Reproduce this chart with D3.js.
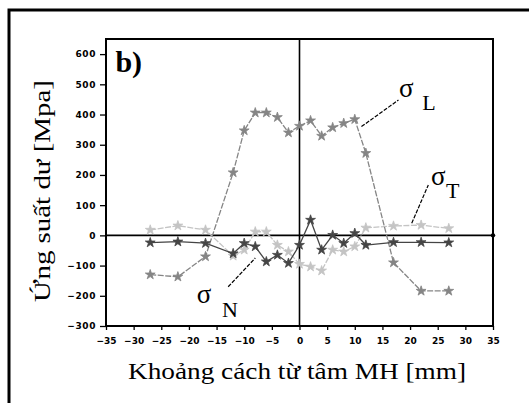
<!DOCTYPE html>
<html>
<head>
<meta charset="utf-8">
<script src="https://cdn.jsdelivr.net/npm/d3@7"></script>
<style>
  body { margin: 0; background: #fff; }
  #grafico svg { display: block; }
</style>
</head>
<body>
<div id="grafico"></div>
<script>
// Vi tri do (mm) va ung suat (MPa)
const viTri = [-27, -22, -17, -12, -10, -8, -6, -4, -2, 0, 2, 4, 6, 8, 10, 12, 17, 22, 27];
const sigmaL = [-130, -137, -70, 208, 347, 406, 406, 391, 340, 362, 380, 329, 357, 371, 384, 272, -90, -184, -184];
const sigmaT = [18, 32, 18, -68, -48, 12, 12, -32, -54, -95, -104, -117, -48, -54, -37, 25, 31, 34, 23];
const sigmaN = [-24, -21, -26, -60, -26, -37, -87, -65, -92, -32, 51, -48, 1, -26, 7, -32, -23, -23, -24];

const xTicks = [-35, -30, -25, -20, -15, -10, -5, 0, 5, 10, 15, 20, 25, 30, 35];
const yTicks = [-300, -200, -100, 0, 100, 200, 300, 400, 500, 600];

const width = 529;
const height = 403;
const margin = { top: 39, right: 36, bottom: 77, left: 106 };

const svg = d3
  .select("#grafico")
  .append("svg")
  .attr("width", width)
  .attr("height", height);

// Khung ngoai
svg
  .append("rect")
  .attr("x", 9)
  .attr("y", 10)
  .attr("width", 560)
  .attr("height", 440)
  .attr("fill", "none")
  .attr("stroke", "#000")
  .attr("stroke-width", 3);

const x = d3
  .scaleLinear()
  .domain([-35, 35])
  .range([margin.left, width - margin.right]);

const y = d3
  .scaleLinear()
  .domain([-300, 650])
  .range([height - margin.bottom, margin.top]);

const serif = "'Liberation Serif', 'DejaVu Serif', serif";

// Truc X
const gx = svg
  .append("g")
  .attr("transform", `translate(0,${y(-300)})`);
gx.call(
  d3.axisBottom(x).tickValues(d3.range(-35, 35.1, 2.5)).tickSize(3).tickFormat("")
);
gx.call(
  d3.axisBottom(x).tickValues(xTicks).tickSize(4).tickPadding(8).tickFormat(d3.format("d"))
);
gx.selectAll(".domain").remove();
gx.selectAll("line").attr("stroke", "#000").attr("stroke-width", 1.3);
gx.selectAll("text")
  .style("font-family", "'DejaVu Sans', sans-serif")
  .style("font-weight", "bold")
  .style("font-size", "9px")
  .attr("fill", "#000");

// Truc Y
const gy = svg
  .append("g")
  .attr("transform", `translate(${x(-35)},0)`);
gy.call(
  d3.axisLeft(y).tickValues(d3.range(-300, 651, 50)).tickSize(3).tickFormat("")
);
gy.call(
  d3.axisLeft(y).tickValues(yTicks).tickSize(6).tickPadding(4).tickFormat(d3.format("d"))
);
gy.selectAll(".domain").remove();
gy.selectAll("line").attr("stroke", "#000").attr("stroke-width", 1.3);
gy.selectAll("text")
  .style("font-family", "'DejaVu Sans', sans-serif")
  .style("font-weight", "bold")
  .style("font-size", "9px")
  .style("letter-spacing", "0.6px")
  .attr("fill", "#000");

// Khung do thi
svg
  .append("rect")
  .attr("x", x(-35))
  .attr("y", y(650))
  .attr("width", x(35) - x(-35))
  .attr("height", y(-300) - y(650))
  .attr("fill", "none")
  .attr("stroke", "#000")
  .attr("stroke-width", 2);

// Duong truc 0
svg
  .append("line")
  .attr("x1", x(0))
  .attr("x2", x(0))
  .attr("y1", y(650))
  .attr("y2", y(-300))
  .attr("stroke", "#000")
  .attr("stroke-width", 1.6);
svg
  .append("line")
  .attr("x1", x(-35))
  .attr("x2", x(35))
  .attr("y1", y(0))
  .attr("y2", y(0))
  .attr("stroke", "#000")
  .attr("stroke-width", 1.6);
svg
  .append("circle")
  .attr("cx", x(35))
  .attr("cy", y(0))
  .attr("r", 2.2)
  .attr("fill", "#000");

// Cac duong ung suat
const series = [
  { name: "T", values: sigmaT, color: "#c4c4c4", dash: "6,1.5" },
  { name: "L", values: sigmaL, color: "#858585", dash: "6,1.5" },
  { name: "N", values: sigmaN, color: "#454545", dash: null },
];

const line = d3
  .line()
  .x((d) => x(d[0]))
  .y((d) => y(d[1]));

const star = d3.symbol().type(d3.symbolStar).size(30);

series.forEach((s) => {
  const pts = viTri.map((v, i) => [v, s.values[i]]);
  svg
    .append("path")
    .datum(pts)
    .attr("d", line)
    .attr("fill", "none")
    .attr("stroke", s.color)
    .attr("stroke-width", 1.3)
    .attr("stroke-dasharray", s.dash);
  svg
    .append("g")
    .selectAll("path")
    .data(pts)
    .join("path")
    .attr("transform", (d) => `translate(${x(d[0])},${y(d[1])})`)
    .attr("d", star)
    .attr("fill", s.color)
    .attr("stroke", s.color)
    .attr("stroke-width", 0.8);
});

// Nhan sigma
const nhan = [
  { sub: "L", from: [11.2, 360], to: [17.9, 448], sig: [18.0, 458], lab: [22.2, 415] },
  { sub: "T", from: [20.3, 40], to: [23.3, 167], sig: [23.8, 167], lab: [26.5, 124] },
  { sub: "N", from: [-12.9, -170], to: [-8, -75], sig: [-18.6, -224], lab: [-14.0, -270] },
];

nhan.forEach((n) => {
  svg
    .append("line")
    .attr("x1", x(n.from[0]))
    .attr("y1", y(n.from[1]))
    .attr("x2", x(n.to[0]))
    .attr("y2", y(n.to[1]))
    .attr("stroke", "#000")
    .attr("stroke-width", 1.2)
    .attr("stroke-dasharray", "4,1.5");
  svg
    .append("text")
    .attr("x", x(n.sig[0]))
    .attr("y", y(n.sig[1]))
    .text("σ")
    .style("font-family", serif)
    .style("font-size", "27px");
  svg
    .append("text")
    .attr("x", x(n.lab[0]))
    .attr("y", y(n.lab[1]))
    .text(n.sub)
    .style("font-family", serif)
    .style("font-size", "22px");
});

// Chu b)
svg
  .append("text")
  .attr("x", x(-33.3))
  .attr("y", y(540))
  .text("b)")
  .style("font-family", serif)
  .style("font-weight", "bold")
  .style("font-size", "30px");

// Ten truc
svg
  .append("text")
  .attr("x", 297)
  .attr("y", 379)
  .attr("text-anchor", "middle")
  .attr("textLength", 338)
  .attr("lengthAdjust", "spacingAndGlyphs")
  .text("Khoảng cách từ tâm MH [mm]")
  .style("font-family", serif)
  .style("font-size", "24px");

svg
  .append("text")
  .attr("transform", "translate(50,191) rotate(-90)")
  .attr("text-anchor", "middle")
  .attr("textLength", 222)
  .attr("lengthAdjust", "spacingAndGlyphs")
  .text("Ứng suất dư [Mpa]")
  .style("font-family", serif)
  .style("font-size", "24px");
</script>
</body>
</html>
